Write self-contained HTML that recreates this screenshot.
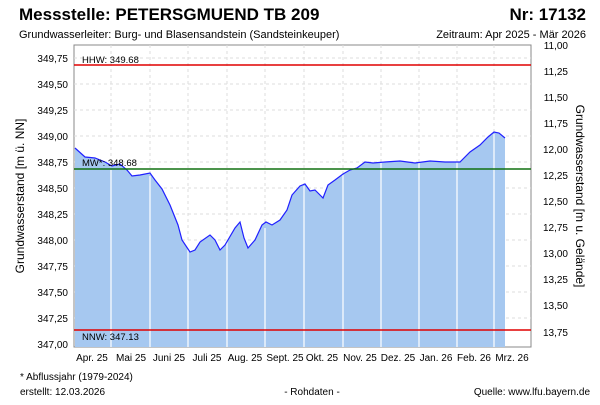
<!DOCTYPE html>
<html><head><meta charset="utf-8"><style>
body{margin:0;background:#fff;width:600px;height:400px;overflow:hidden;font-family:"Liberation Sans",sans-serif}
</style></head><body>
<svg width="600" height="400" xmlns="http://www.w3.org/2000/svg" font-family="Liberation Sans, sans-serif">
<text x="19" y="20" font-size="17" font-weight="bold">Messstelle: PETERSGMUEND TB 209</text>
<text x="586" y="20" font-size="17" font-weight="bold" text-anchor="end">Nr: 17132</text>
<text x="19" y="38" font-size="11">Grundwasserleiter:  Burg- und Blasensandstein (Sandsteinkeuper)</text>
<text x="586" y="38" font-size="11" text-anchor="end">Zeitraum: Apr 2025 - Mär 2026</text>
<rect x="74" y="45" width="457" height="302" fill="#fff" stroke="#888"/>
<g stroke="#ddd" stroke-dasharray="3,3">
<line x1="74" x2="531" y1="58" y2="58"/><line x1="74" x2="531" y1="84" y2="84"/><line x1="74" x2="531" y1="110" y2="110"/><line x1="74" x2="531" y1="136" y2="136"/><line x1="74" x2="531" y1="162" y2="162"/><line x1="74" x2="531" y1="188" y2="188"/><line x1="74" x2="531" y1="214" y2="214"/><line x1="74" x2="531" y1="240" y2="240"/><line x1="74" x2="531" y1="266" y2="266"/><line x1="74" x2="531" y1="292" y2="292"/><line x1="74" x2="531" y1="318" y2="318"/>
<line y1="45" y2="347" x1="111" x2="111"/><line y1="45" y2="347" x1="150" x2="150"/><line y1="45" y2="347" x1="188" x2="188"/><line y1="45" y2="347" x1="227" x2="227"/><line y1="45" y2="347" x1="265" x2="265"/><line y1="45" y2="347" x1="304" x2="304"/><line y1="45" y2="347" x1="343" x2="343"/><line y1="45" y2="347" x1="381" x2="381"/><line y1="45" y2="347" x1="419" x2="419"/><line y1="45" y2="347" x1="457" x2="457"/><line y1="45" y2="347" x1="494" x2="494"/>
</g>
<path d="M75,148 L85,157 L95,158 L105,162 L112,166 L120,164 L127,170 L132,176 L140,175 L150,173 L155,180 L162,189 L170,205 L178,225 L182,240 L190,252 L195,250 L200,242 L210,235 L215,240 L220,250 L225,245 L235,228 L240,222 L244,238 L248,248 L255,240 L262,225 L266,222 L272,225 L280,220 L287,210 L292,195 L300,186 L305,184 L310,191 L315,190 L320,195 L323,198 L328,185 L335,180 L343,174 L350,170 L357,168 L365,162 L373,163 L385,162 L400,161 L415,163 L430,161 L445,162 L460,162 L470,152 L480,145 L488,137 L494,132 L499,133 L505,138 L505,347 L75,347 Z" fill="#a6c8f0"/>
<g stroke="#fff" stroke-width="1.2">
<line y1="170" y2="347" x1="111" x2="111"/><line y1="176" y2="347" x1="150" x2="150"/><line y1="242" y2="347" x1="188" x2="188"/><line y1="236" y2="347" x1="227" x2="227"/><line y1="228" y2="347" x1="265" x2="265"/><line y1="186" y2="347" x1="304" x2="304"/><line y1="175" y2="347" x1="343" x2="343"/><line y1="163" y2="347" x1="381" x2="381"/><line y1="162" y2="347" x1="419" x2="419"/><line y1="162" y2="347" x1="457" x2="457"/><line y1="134" y2="347" x1="494" x2="494"/>
</g>
<path d="M75,148 L85,157 L95,158 L105,162 L112,166 L120,164 L127,170 L132,176 L140,175 L150,173 L155,180 L162,189 L170,205 L178,225 L182,240 L190,252 L195,250 L200,242 L210,235 L215,240 L220,250 L225,245 L235,228 L240,222 L244,238 L248,248 L255,240 L262,225 L266,222 L272,225 L280,220 L287,210 L292,195 L300,186 L305,184 L310,191 L315,190 L320,195 L323,198 L328,185 L335,180 L343,174 L350,170 L357,168 L365,162 L373,163 L385,162 L400,161 L415,163 L430,161 L445,162 L460,162 L470,152 L480,145 L488,137 L494,132 L499,133 L505,138" fill="none" stroke="#2020ff" stroke-width="1.2"/>
<line x1="74" x2="531" y1="65" y2="65" stroke="#e00000" stroke-width="1.5"/>
<line x1="74" x2="531" y1="169" y2="169" stroke="#107010" stroke-width="1.5"/>
<line x1="74" x2="531" y1="330" y2="330" stroke="#e00000" stroke-width="1.5"/>
<g font-size="9.5">
<text x="82" y="63">HHW: 349.68</text><text x="82" y="166">MW*: 348.68</text><text x="82" y="340">NNW: 347.13</text>
</g>
<g font-size="10" text-anchor="end">
<text x="68" y="62">349,75</text><text x="68" y="88">349,50</text><text x="68" y="114">349,25</text><text x="68" y="140">349,00</text><text x="68" y="166">348,75</text><text x="68" y="192">348,50</text><text x="68" y="218">348,25</text><text x="68" y="244">348,00</text><text x="68" y="270">347,75</text><text x="68" y="296">347,50</text><text x="68" y="322">347,25</text><text x="68" y="348">347,00</text>
</g>
<g font-size="10" text-anchor="end">
<text x="568" y="49">11,00</text><text x="568" y="75">11,25</text><text x="568" y="101">11,50</text><text x="568" y="127">11,75</text><text x="568" y="153">12,00</text><text x="568" y="179">12,25</text><text x="568" y="205">12,50</text><text x="568" y="231">12,75</text><text x="568" y="257">13,00</text><text x="568" y="283">13,25</text><text x="568" y="309">13,50</text><text x="568" y="336">13,75</text>
</g>
<text transform="translate(24,196) rotate(-90)" font-size="12" text-anchor="middle">Grundwasserstand [m ü. NN]</text>
<text transform="translate(576,196) rotate(90)" font-size="12" text-anchor="middle">Grundwasserstand [m u. Gelände]</text>
<g font-size="10" text-anchor="middle">
<text x="92" y="361">Apr. 25</text><text x="131" y="361">Mai 25</text><text x="169" y="361">Juni 25</text><text x="207" y="361">Juli 25</text><text x="245" y="361">Aug. 25</text><text x="285" y="361">Sept. 25</text><text x="322" y="361">Okt. 25</text><text x="360" y="361">Nov. 25</text><text x="398" y="361">Dez. 25</text><text x="436" y="361">Jan. 26</text><text x="474" y="361">Feb. 26</text><text x="512" y="361">Mrz. 26</text>
</g>
<text x="20" y="380" font-size="10">* Abflussjahr (1979-2024)</text>
<text x="20" y="395" font-size="10">erstellt:  12.03.2026</text>
<text x="312" y="395" font-size="10" text-anchor="middle">- Rohdaten -</text>
<text x="590" y="395" font-size="10" text-anchor="end">Quelle: www.lfu.bayern.de</text>
</svg>
</body></html>
